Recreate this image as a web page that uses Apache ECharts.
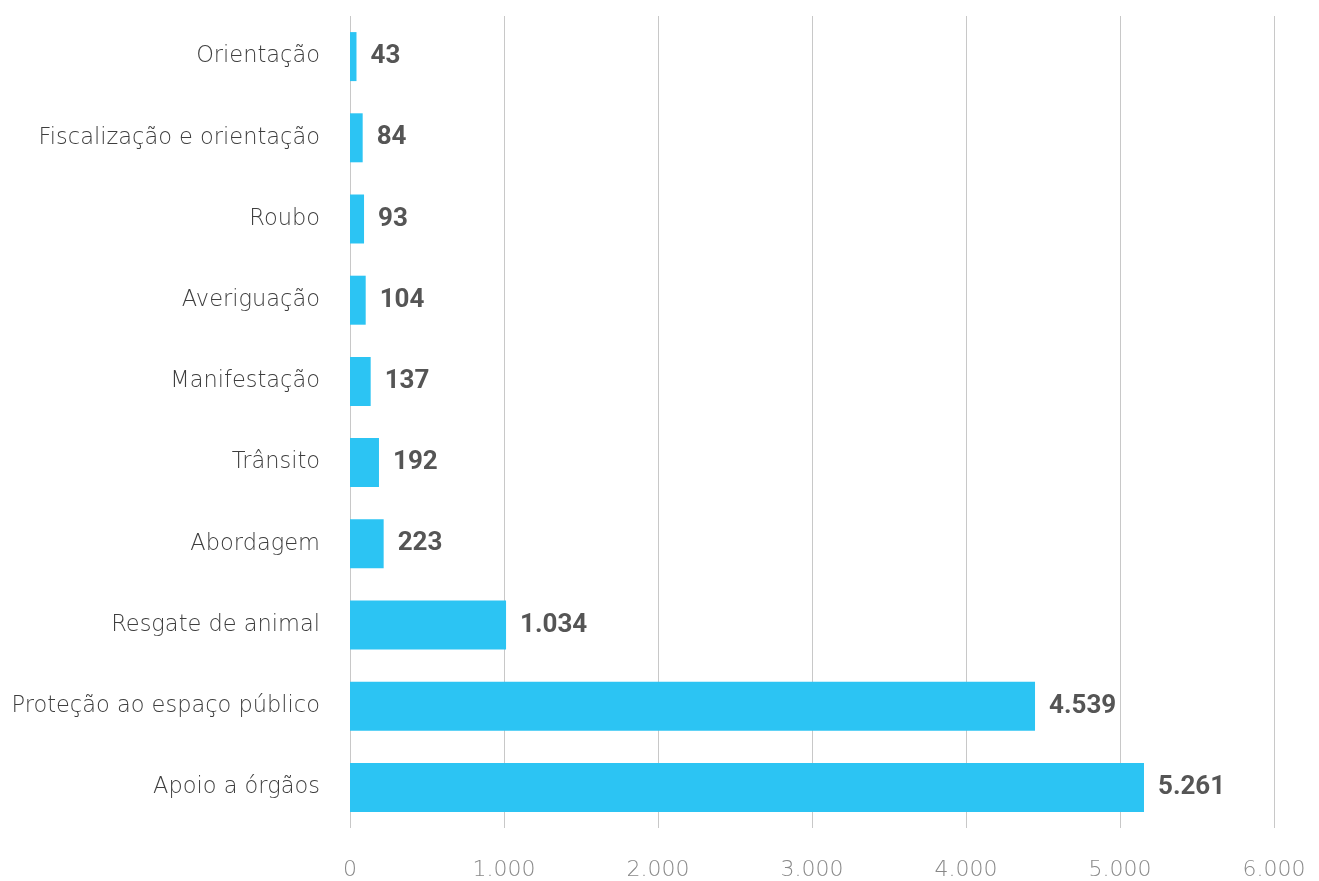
<!DOCTYPE html>
<html>
<head>
<meta charset="utf-8">
<script src="https://cdn.jsdelivr.net/npm/echarts@6/dist/echarts.min.js"></script>
<style>
html, body { margin: 0; padding: 0; background: #fff; }
#chart { width: 1319px; height: 881px; }
</style>
</head>
<body>
<div id="chart"></div>
<script>
var categories = ['Orientação', 'Fiscalização e orientação', 'Roubo', 'Averiguação', 'Manifestação',
    'Trânsito', 'Abordagem', 'Resgate de animal', 'Proteção ao espaço público', 'Apoio a órgãos'];
var values = [43, 84, 93, 104, 137, 192, 223, 1034, 4539, 5261];
var tickMax = 6000;
var tickStep = 1000;

function fmt(v) {
    return String(v).replace(/\B(?=(\d{3})+(?!\d))/g, '.');
}

var chart = echarts.init(document.getElementById('chart'));
chart.setOption({
    animation: false,
    grid: { left: 350, right: 45, top: 16, bottom: 50, containLabel: false },
    xAxis: [
        {
            type: 'value',
            min: 0,
            max: tickMax,
            interval: tickStep,
            axisLine: { show: false },
            axisTick: { show: false },
            splitLine: { lineStyle: { color: '#c8c8c8', width: 1 } },
            axisLabel: {
                margin: 31,
                color: '#888',
                fontFamily: 'DejaVu Sans',
                fontWeight: 200,
                fontSize: 22,
                formatter: function (v) { return fmt(v); }
            }
        },
        {
            // bars in the source are drawn ~2% short of the tick scale
            type: 'value',
            min: 0,
            max: tickMax / 0.98,
            show: false
        }
    ],
    yAxis: {
        type: 'category',
        inverse: true,
        data: categories,
        axisLine: { show: false },
        axisTick: { show: false },
        axisLabel: {
            margin: 30,
            color: '#3e3e3e',
            fontFamily: 'DejaVu Sans',
            fontWeight: 200,
            fontSize: 22.5
        }
    },
    series: [{
        type: 'bar',
        xAxisIndex: 1,
        data: values,
        barWidth: 49,
        itemStyle: { color: '#2cc4f3' },
        label: {
            show: true,
            position: 'right',
            distance: 14,
            color: '#555',
            fontFamily: 'Roboto',
            fontWeight: 'bold',
            fontSize: 26,
            formatter: function (p) { return fmt(p.value); }
        }
    }]
});
</script>
</body>
</html>
